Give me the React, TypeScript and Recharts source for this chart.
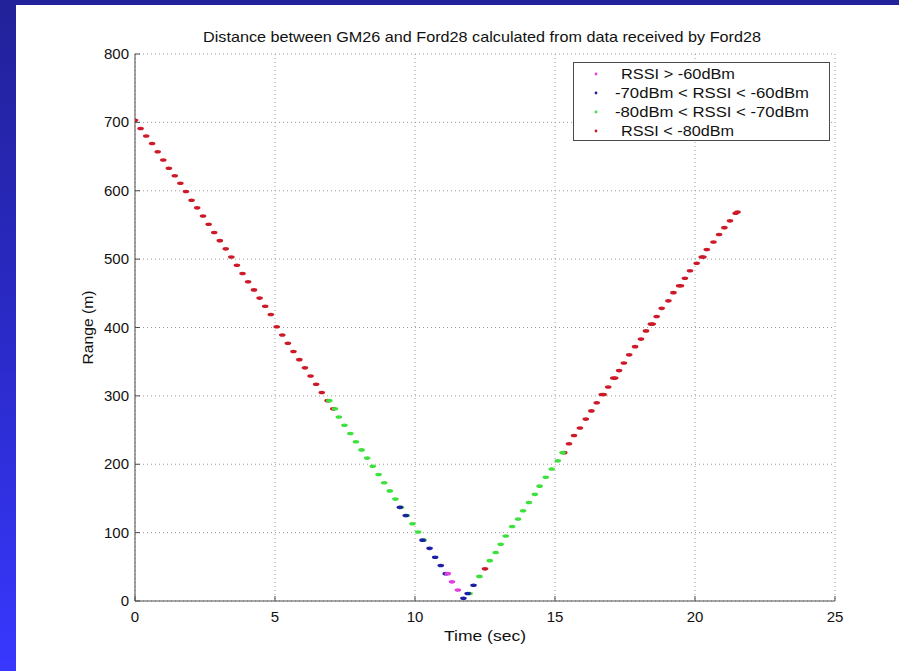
import React from 'react';
import { ScatterChart, Scatter, XAxis, YAxis, CartesianGrid, Legend, Label } from 'recharts';

const titleText = 'Distance between GM26 and Ford28 calculated from data received by Ford28';
const xLabelText = 'Time (sec)';
const yLabelText = 'Range (m)';

const xTicks = [0, 5, 10, 15, 20, 25];
const yTicks = [0, 100, 200, 300, 400, 500, 600, 700, 800];

const seriesNames = ['RSSI > -60dBm', '-70dBm < RSSI < -60dBm', '-80dBm < RSSI < -70dBm', 'RSSI < -80dBm'];
const seriesColors = ['#e040e0', '#1e1ea8', '#3ee03e', '#cc1a28'];

// RSSI > -60dBm (magenta)
const strongPoints: [number, number][] = [
  [11.17, 40], [11.32, 28], [11.53, 16],
];

// -70dBm < RSSI < -60dBm (blue)
const mediumPoints: [number, number][] = [
  [9.46, 137], [9.67, 125], [10.27, 89], [10.52, 77], [10.72, 64], [10.92, 52],
  [11.1, 40], [11.73, 4], [11.88, 11], [12.09, 23],
];

// -80dBm < RSSI < -70dBm (green)
const weakPoints: [number, number][] = [
  [6.94, 293], [7.14, 281], [7.28, 269], [7.48, 257], [7.69, 245], [7.89, 233],
  [8.09, 221], [8.29, 209], [8.49, 197], [8.7, 185], [8.9, 173], [9.1, 161],
  [9.3, 149], [9.5, 137], [9.71, 125], [9.91, 113], [10.11, 101], [10.31, 89],
  [11.95, 11], [12.3, 36], [12.67, 59], [12.88, 71], [13.06, 83], [13.24, 95],
  [13.47, 109], [13.68, 120], [13.86, 132], [14.07, 144], [14.28, 156], [14.45, 168],
  [14.67, 181], [14.88, 193], [15.1, 205], [15.27, 217],
];

// RSSI < -80dBm (red)
const faintPoints: [number, number][] = [
  [0.0, 703], [0.2, 691], [0.4, 680], [0.61, 669], [0.81, 657], [1.01, 645],
  [1.21, 633], [1.42, 622], [1.62, 611], [1.82, 599], [2.02, 586], [2.22, 575],
  [2.43, 563], [2.63, 551], [2.83, 539], [3.03, 527], [3.24, 515], [3.44, 503],
  [3.64, 491], [3.84, 479], [4.04, 467], [4.25, 455], [4.45, 443], [4.65, 431],
  [4.85, 419], [5.06, 401], [5.26, 389], [5.46, 377], [5.66, 365], [5.87, 353],
  [6.07, 341], [6.27, 329], [6.47, 317], [6.67, 305], [6.88, 293], [7.08, 281],
  [12.5, 47],
  [15.33, 217], [15.5, 230], [15.68, 242], [15.89, 253], [16.1, 266], [16.3, 278],
  [16.49, 290], [16.67, 302], [16.74, 302], [16.9, 313], [17.08, 326], [17.15, 326],
  [17.29, 337], [17.46, 348], [17.65, 360], [17.86, 372], [18.07, 383], [18.25, 395],
  [18.42, 405], [18.49, 405], [18.63, 416], [18.81, 428], [19.05, 439], [19.23, 451],
  [19.43, 461], [19.5, 461], [19.64, 472], [19.82, 483], [20.06, 494], [20.24, 503],
  [20.3, 503], [20.42, 514], [20.66, 525], [20.86, 536], [21.05, 546], [21.25, 556],
  [21.45, 567], [21.52, 569],
];

const FONT = '"Liberation Sans", Arial, Helvetica, sans-serif';
const AXIS = '#4a4a4a';
const TEXT = '#111';

const toData = (pts: [number, number][]) => pts.map(([t, r]) => ({ t, r }));

const makeShape = (color: string) => (props: any) => {
  const { cx, cy } = props;
  if (cx == null || cy == null) return <g />;
  return <ellipse cx={cx} cy={cy} rx={3.3} ry={1.8} fill={color} />;
};

const BottomTick = (props: any) => {
  const { x, y, payload } = props;
  return (
    <g>
      <line x1={x} y1={y} x2={x} y2={y - 5} stroke={AXIS} />
      <text x={x} y={y + 21} textAnchor="middle" fontSize={15} fill={TEXT} fontFamily={FONT}>
        {payload.value}
      </text>
    </g>
  );
};

const TopTick = (props: any) => {
  const { x, y } = props;
  return <line x1={x} y1={y} x2={x} y2={y + 5} stroke={AXIS} />;
};

const LeftTick = (props: any) => {
  const { x, y, payload } = props;
  return (
    <g>
      <line x1={x} y1={y} x2={x + 5} y2={y} stroke={AXIS} />
      <text x={x - 6} y={y + 5} textAnchor="end" fontSize={15} fill={TEXT} fontFamily={FONT}>
        {payload.value}
      </text>
    </g>
  );
};

const RightTick = (props: any) => {
  const { x, y } = props;
  return <line x1={x} y1={y} x2={x - 5} y2={y} stroke={AXIS} />;
};

const renderTitle = () => (
  <text x={482} y={42} textAnchor="middle" fontSize={15} fill={TEXT} fontFamily={FONT}
    textLength={558} lengthAdjust="spacingAndGlyphs">
    {titleText}
  </text>
);

const renderXLabel = (props: any) => {
  const vb = props.viewBox || {};
  const cx = (vb.x ?? 135) + (vb.width ?? 700) / 2;
  return (
    <text x={cx} y={641} textAnchor="middle" fontSize={15} fill={TEXT} fontFamily={FONT}
      textLength={82} lengthAdjust="spacingAndGlyphs">
      {xLabelText}
    </text>
  );
};

const renderYLabel = (props: any) => {
  const vb = props.viewBox || {};
  const cy = (vb.y ?? 54) + (vb.height ?? 547) / 2;
  const x = 93;
  return (
    <text x={x} y={cy} textAnchor="middle" fontSize={15} fill={TEXT} fontFamily={FONT}
      transform={`rotate(-90 ${x} ${cy})`} textLength={74} lengthAdjust="spacingAndGlyphs">
      {yLabelText}
    </text>
  );
};

const legendRowsY = [11, 30, 49, 68];
const legendTextX = [48, 42, 42, 48];
const legendTextLen = [114, 194, 194, 113];

const renderLegend = () => (
  <svg width={257} height={79} style={{ display: 'block' }}>
    <rect x={0.5} y={0.5} width={256} height={78} fill="#fff" stroke={AXIS} />
    {seriesNames.map((name, i) => (
      <g key={name}>
        <circle cx={23} cy={legendRowsY[i] + 1} r={1.4} fill={seriesColors[i]} />
        <text x={legendTextX[i]} y={legendRowsY[i] + 5.5} fontSize={15} fill={TEXT} fontFamily={FONT}
          textLength={legendTextLen[i]} lengthAdjust="spacingAndGlyphs">
          {name}
        </text>
      </g>
    ))}
  </svg>
);

export default function App() {
  const series = [
    { name: seriesNames[3], color: seriesColors[3], data: toData(faintPoints) },
    { name: seriesNames[2], color: seriesColors[2], data: toData(weakPoints) },
    { name: seriesNames[1], color: seriesColors[1], data: toData(mediumPoints) },
    { name: seriesNames[0], color: seriesColors[0], data: toData(strongPoints) },
  ];
  return (
    <div
      style={{
        position: 'absolute', left: 0, top: 0, width: 899, height: 671, overflow: 'hidden',
        background: 'linear-gradient(to bottom, #22229a 0%, #2a2ac8 50%, #3838ff 100%)',
      }}
    >
      <div style={{ position: 'absolute', left: 16, top: 5, width: 883, height: 666, background: '#fff' }} />
      <div style={{ position: 'absolute', left: 0, top: 0 }}>
        <ScatterChart width={899} height={671} margin={{ top: 54, right: 64, bottom: 40, left: 85 }}>
          <CartesianGrid stroke="#9a9a9a" strokeDasharray="1 3" />
          <XAxis
            xAxisId={0}
            type="number"
            dataKey="t"
            domain={[0, 25]}
            ticks={xTicks}
            allowDataOverflow
            height={30}
            tickSize={0}
            tickMargin={0}
            stroke={AXIS}
            tick={<BottomTick />}
            interval={0}
          >
            <Label content={renderXLabel} />
          </XAxis>
          <XAxis
            xAxisId="top"
            orientation="top"
            type="number"
            domain={[0, 25]}
            ticks={xTicks}
            height={0}
            tickSize={0}
            tickMargin={0}
            stroke={AXIS}
            tick={<TopTick />}
            interval={0}
          />
          <YAxis
            yAxisId={0}
            type="number"
            dataKey="r"
            domain={[0, 800]}
            ticks={yTicks}
            allowDataOverflow
            width={50}
            tickSize={0}
            tickMargin={0}
            stroke={AXIS}
            tick={<LeftTick />}
            interval={0}
          >
            <Label content={renderYLabel} />
            <Label content={renderTitle} />
          </YAxis>
          <YAxis
            yAxisId="right"
            orientation="right"
            type="number"
            domain={[0, 800]}
            ticks={yTicks}
            width={0}
            tickSize={0}
            tickMargin={0}
            stroke={AXIS}
            tick={<RightTick />}
            interval={0}
          />
          <Legend
            layout="horizontal"
            verticalAlign="middle"
            align="center"
            content={renderLegend}
            wrapperStyle={{ position: 'absolute', left: 573, top: 62, width: 257, height: 79 }}
          />
          {series.map((s) => (
            <Scatter
              key={s.name}
              name={s.name}
              data={s.data}
              xAxisId={0}
              yAxisId={0}
              fill={s.color}
              shape={makeShape(s.color)}
              isAnimationActive={false}
            />
          ))}
        </ScatterChart>
      </div>
    </div>
  );
}
